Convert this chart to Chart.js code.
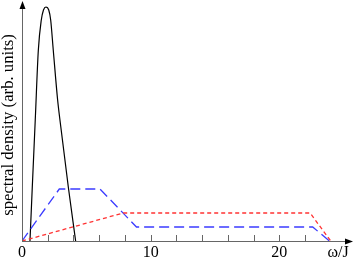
<!DOCTYPE html>
<html>
<head>
<meta charset="utf-8">
<script src="https://cdn.jsdelivr.net/npm/chart.js@4"></script>
<style>
  html, body { margin: 0; padding: 0; background: #fff; }
  #wrap { width: 353px; height: 261px; }
</style>
</head>
<body>
<div id="wrap"><canvas id="chart" width="353" height="261"></canvas></div>
<script>
// -------------------------
// Data (omega/J vs spectral density, arb. units)
// -------------------------
const blackOmega = [0.62, 0.80, 1.03, 1.27, 1.50, 1.67, 1.86, 2.08, 2.23, 2.43, 2.77, 2.95, 3.60, 4.17];
const blackDensity = [0, 54, 121, 191, 221, 231, 234, 231, 221, 191, 141, 121, 54, 0];

const blueOmega = [0, 2.9, 6.06, 8.9, 22.6, 23.9];
const blueDensity = [0, 52, 52, 14, 14, 0];

const redOmega = [0, 7.87, 22.4, 24.0];
const redDensity = [0, 28, 28, 0];

const majorTicks = [0, 10, 20];
const minorTicks = [2, 4, 6, 8, 10, 12, 14, 16, 18, 20, 22];
const xTitle = 'ω/J';
const yTitle = 'spectral density (arb. units)';

const toPoints = (xs, ys) => xs.map((x, i) => ({ x: x, y: ys[i] }));

// -------------------------
// Axes with arrows, ticks, labels
// -------------------------
const axesPlugin = {
    id: 'axes',
    afterDatasetsDraw(chart) {
        const ctx = chart.ctx;
        const xs = chart.scales.x, ys = chart.scales.y;
        const x0 = xs.getPixelForValue(0);
        const y0 = ys.getPixelForValue(0);
        ctx.save();
        ctx.strokeStyle = '#666';
        ctx.fillStyle = '#000';
        ctx.lineWidth = 1;
        // x axis
        ctx.beginPath();
        ctx.moveTo(x0, y0 + 0.5);
        ctx.lineTo(347, y0 + 0.5);
        ctx.stroke();
        ctx.beginPath();
        ctx.moveTo(353, y0 + 0.5);
        ctx.lineTo(345, y0 - 2.5);
        ctx.lineTo(345, y0 + 3.5);
        ctx.closePath();
        ctx.fill();
        // y axis
        ctx.beginPath();
        ctx.moveTo(x0 + 0.5, y0);
        ctx.lineTo(x0 + 0.5, 8);
        ctx.stroke();
        ctx.beginPath();
        ctx.moveTo(x0 + 0.5, 1);
        ctx.lineTo(x0 - 2.5, 9);
        ctx.lineTo(x0 + 3.5, 9);
        ctx.closePath();
        ctx.fill();
        // minor ticks
        minorTicks.forEach(t => {
            const px = Math.round(xs.getPixelForValue(t)) + 0.5;
            ctx.beginPath();
            ctx.moveTo(px, y0);
            ctx.lineTo(px, y0 - 6);
            ctx.stroke();
        });
        // labels
        ctx.font = '16px "Liberation Serif", serif';
        ctx.textAlign = 'center';
        ctx.textBaseline = 'alphabetic';
        majorTicks.forEach(t => {
            ctx.fillText(String(t), xs.getPixelForValue(t), 257);
        });
        ctx.fillText(xTitle, 338, 257);
        ctx.font = '16.7px "Liberation Serif", serif';
        ctx.translate(13, 125);
        ctx.rotate(-Math.PI / 2);
        ctx.fillText(yTitle, 0, 0);
        ctx.restore();
    }
};

new Chart(document.getElementById('chart').getContext('2d'), {
    type: 'line',
    data: {
        datasets: [
            {
                data: toPoints(redOmega, redDensity),
                borderColor: '#ff3333',
                borderWidth: 1.3,
                borderDash: [4, 3],
                pointRadius: 0,
                tension: 0
            },
            {
                data: toPoints(blueOmega, blueDensity),
                borderColor: '#3b3bff',
                borderWidth: 1.3,
                borderDash: [10, 5],
                pointRadius: 0,
                tension: 0
            },
            {
                data: toPoints(blackOmega, blackDensity),
                borderColor: '#000',
                borderWidth: 1.2,
                pointRadius: 0,
                cubicInterpolationMode: 'monotone'
            }
        ]
    },
    options: {
        responsive: false,
        animation: false,
        layout: { padding: { left: 22, right: 3, top: 5, bottom: 20 } },
        plugins: { legend: { display: false }, tooltip: { enabled: false } },
        scales: {
            x: { type: 'linear', min: 0, max: 25.5, display: false },
            y: { type: 'linear', min: 0, max: 236, display: false }
        }
    },
    plugins: [axesPlugin]
});
</script>
</body>
</html>
